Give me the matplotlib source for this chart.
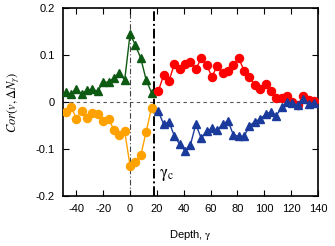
import matplotlib
matplotlib.use("Agg")
import matplotlib.pyplot as plt

plt.rcParams['font.family'] = ['Liberation Sans', 'DejaVu Sans']
plt.rcParams['mathtext.fontset'] = 'stix'
plt.rcParams['axes.unicode_minus'] = False

x_left = [-48, -44, -40, -36, -32, -28, -24, -20, -16, -12, -8, -4, 0, 4, 8, 12, 16]
green_vals = [0.021, 0.017, 0.028, 0.017, 0.026, 0.027, 0.023, 0.043, 0.042, 0.052,
              0.062, 0.047, 0.145, 0.121, 0.093, 0.047, 0.020]
orange_vals = [-0.022, -0.010, -0.035, -0.019, -0.033, -0.024, -0.025, -0.040, -0.035,
               -0.060, -0.069, -0.062, -0.136, -0.127, -0.113, -0.063, -0.012]

x_right = [21, 25, 29, 33, 37, 41, 45, 49, 53, 57, 61, 65, 69, 73, 77, 81, 85, 89, 93,
           97, 101, 105, 109, 113, 117, 121, 125, 129, 133, 137]
red_vals = [0.023, 0.057, 0.045, 0.081, 0.070, 0.082, 0.086, 0.070, 0.093, 0.079,
            0.054, 0.077, 0.062, 0.067, 0.079, 0.093, 0.067, 0.053, 0.036, 0.027,
            0.038, 0.024, 0.009, 0.008, 0.013, 0.001, -0.006, 0.013, 0.004, 0.002]
blue_vals = [-0.019, -0.047, -0.042, -0.072, -0.090, -0.104, -0.091, -0.047, -0.077, -0.062,
             -0.056, -0.060, -0.047, -0.040, -0.070, -0.073, -0.073, -0.050, -0.042, -0.036,
             -0.026, -0.021, -0.029, -0.011, 0.000, -0.003, -0.006, 0.007, -0.004, -0.002]

gamma_c = 18
x_ticks = [-40, -20, 0, 20, 40, 60, 80, 100, 120, 140]
y_ticks = [-0.2, -0.1, 0, 0.1, 0.2]
y_tick_labels = ['-0.2', '-0.1', '0', '0.1', '0.2']

fig = plt.figure(figsize=(3.35, 2.46), dpi=100)
ax = fig.add_axes([0.188, 0.203, 0.761, 0.764])

ax.axhline(0, color='#555555', lw=0.8, ls=(0, (3, 3)), zorder=1)
ax.axvline(0, color='#444444', lw=0.8, ls=(0, (5, 2, 1, 2)), zorder=1)
ax.axvline(gamma_c, color='black', lw=1.4, ls=(0, (5, 1.5, 1, 1.5)), zorder=1)

ax.plot(x_left, green_vals, color='#0d5a12', marker='^', ms=5.2, lw=1.0, zorder=3)
ax.plot(x_left, orange_vals, color='#ffa200', marker='o', ms=5.8, lw=1.0, zorder=3)
ax.plot(x_right, red_vals, color='#ff0000', marker='o', ms=5.8, lw=1.0, zorder=3)
ax.plot(x_right, blue_vals, color='#1a3a9c', marker='^', ms=5.2, lw=1.0, zorder=3)

ax.text(21.5, -0.155, r'$\mathrm{\gamma}_{\mathrm{c}}$', fontsize=12, va='center', ha='left')

ax.set_xlim(-50, 140)
ax.set_ylim(-0.2, 0.2)
ax.set_xticks(x_ticks)
ax.set_yticks(y_ticks)
ax.set_yticklabels(y_tick_labels)
ax.tick_params(direction='in', top=True, right=True, labelsize=8, length=4, width=0.8, pad=6)
for s in ax.spines.values():
    s.set_linewidth(1.2)

ax.set_xlabel(r'Depth, $\mathrm{\gamma}$', fontsize=8, labelpad=10)
ax.set_ylabel(r'$Cor(v,\Delta N_{\gamma})$', fontsize=9, labelpad=10)

fig.savefig('out.png', dpi=100)
